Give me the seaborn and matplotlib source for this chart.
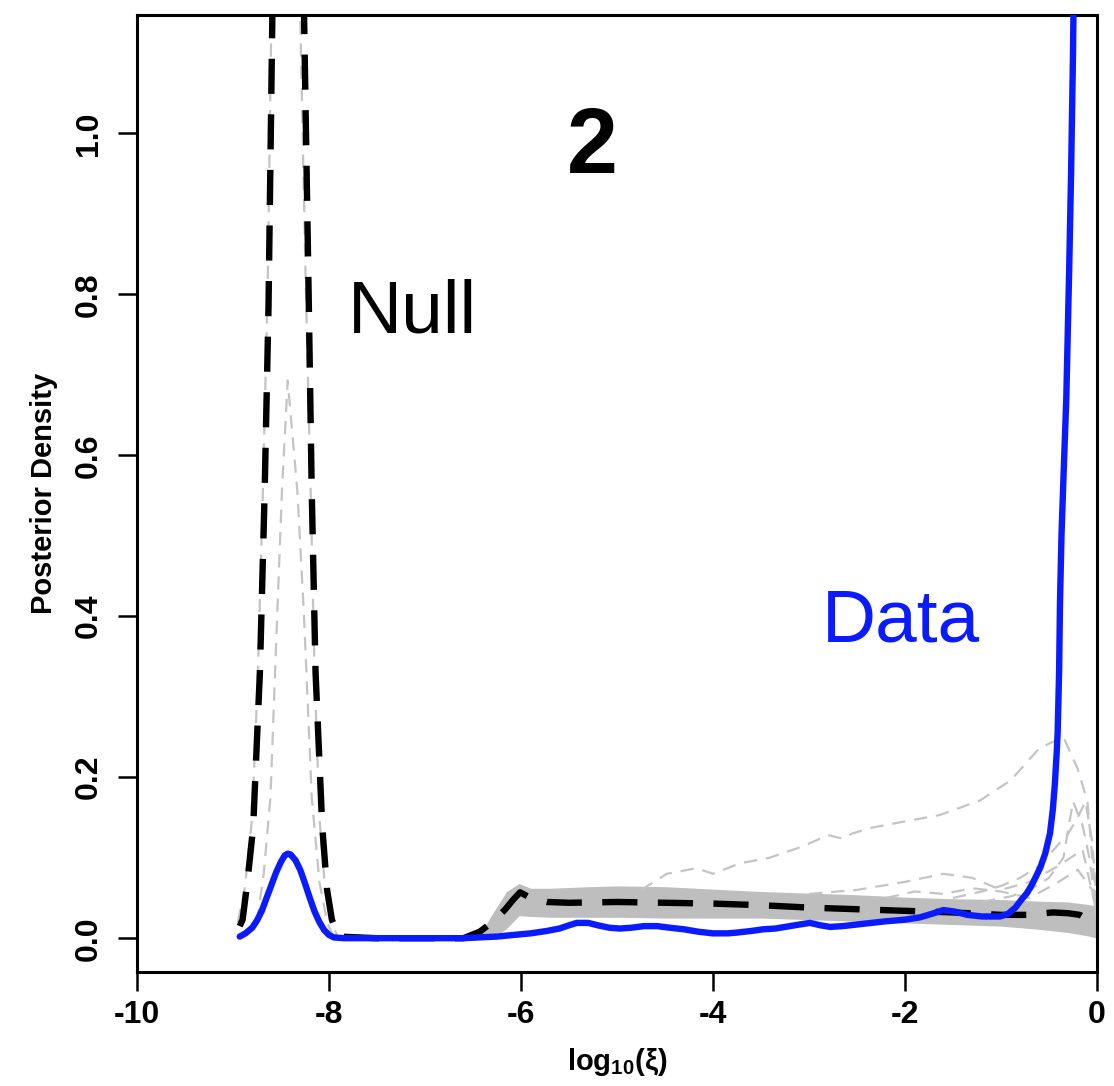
import numpy as np
import pandas as pd
import matplotlib
matplotlib.use("Agg")
import matplotlib.pyplot as plt
import seaborn as sns

# ---------------- data ----------------
data_x = [-8.93, -8.87, -8.8, -8.75, -8.7, -8.65, -8.6, -8.55, -8.5, -8.46, -8.43,
          -8.4, -8.35, -8.3, -8.25, -8.2, -8.15, -8.1, -8.05, -8.0, -7.95, -7.85,
          -7.5, -7.0, -6.6, -6.43, -6.25, -6.08, -5.9, -5.73, -5.6, -5.5, -5.42, -5.3,
          -5.2, -5.08, -4.97, -4.85, -4.72, -4.58, -4.45, -4.3, -4.15, -4.0, -3.85,
          -3.75, -3.6, -3.48, -3.35, -3.25, -3.1, -2.99, -2.88, -2.78, -2.65, -2.5,
          -2.35, -2.2, -2.0, -1.84, -1.7, -1.6, -1.48, -1.35, -1.2, -1.01, -0.93,
          -0.85, -0.8, -0.73, -0.68, -0.63, -0.59, -0.54, -0.49, -0.46, -0.44, -0.42,
          -0.41, -0.395, -0.385, -0.37, -0.35, -0.32, -0.29, -0.27, -0.25, -0.24]
data_y = [0.002, 0.006, 0.013, 0.022, 0.034, 0.05, 0.066, 0.082, 0.095, 0.103, 0.105,
          0.104, 0.097, 0.085, 0.068, 0.05, 0.033, 0.02, 0.01, 0.004, 0.001, 0.0,
          0.0, 0.0, 0.0, 0.001, 0.002, 0.004, 0.006, 0.009, 0.012, 0.016, 0.019, 0.019,
          0.016, 0.013, 0.012, 0.013, 0.015, 0.015, 0.013, 0.011, 0.008, 0.006, 0.006,
          0.007, 0.009, 0.011, 0.012, 0.014, 0.017, 0.019, 0.016, 0.014, 0.015, 0.017,
          0.019, 0.021, 0.023, 0.026, 0.031, 0.035, 0.033, 0.029, 0.027, 0.027, 0.03,
          0.038, 0.046, 0.056, 0.066, 0.078, 0.088, 0.105, 0.13, 0.16, 0.19, 0.23,
          0.255, 0.33, 0.42, 0.5, 0.57, 0.67, 0.83, 0.95, 1.1, 1.2]

null_x = [-8.93, -8.9, -8.85, -8.79, -8.72, -8.67, -8.63, -8.59, -8.52, -8.43, -8.34,
          -8.26, -8.21, -8.18, -8.14, -8.07, -8.02, -7.97, -7.9, -7.5, -7.0, -6.6,
          -6.43, -6.3, -6.17, -6.08, -6.01, -5.9, -5.73, -5.5, -5.0, -4.5, -4.0, -3.5,
          -3.0, -2.5, -2.0, -1.5, -1.0, -0.73, -0.46, -0.3, -0.18, -0.08, 0.0]
null_y = [0.015, 0.023, 0.07, 0.138, 0.33, 0.556, 0.785, 1.147, 1.45, 1.55, 1.45,
          1.147, 0.785, 0.556, 0.33, 0.138, 0.06, 0.023, 0.002, 0.0, 0.0, 0.0,
          0.008, 0.02, 0.035, 0.048, 0.057, 0.05, 0.045, 0.044, 0.045, 0.044, 0.043, 0.041,
          0.038, 0.036, 0.034, 0.032, 0.029, 0.029, 0.032, 0.031, 0.029, 0.022, 0.012]

# envelope of the null replicate band
band_x = [-6.45, -6.3, -6.15, -6.02, -5.9, -5.7, -5.3, -5.0, -4.5, -4.0, -3.5,
          -3.0, -2.5, -2.0, -1.5, -1.0, -0.6, -0.3, -0.1, 0.0]
band_upper = [0.0, 0.03, 0.058, 0.068, 0.062, 0.062, 0.064, 0.065, 0.064, 0.061, 0.058,
              0.056, 0.054, 0.051, 0.049, 0.048, 0.046, 0.045, 0.042, 0.04]
band_lower = [0.0, 0.0, 0.012, 0.028, 0.027, 0.026, 0.026, 0.026, 0.025, 0.025, 0.025,
              0.023, 0.021, 0.019, 0.017, 0.015, 0.011, 0.007, 0.003, 0.0]

# individual null replicates (thin grey dashed)
rep1_x = [-8.75, -8.68, -8.61, -8.54, -8.49, -8.43, -8.33, -8.26, -8.18, -8.1, -8.02, -7.95]
rep1_y = [0.02, 0.08, 0.175, 0.40, 0.556, 0.693, 0.556, 0.40, 0.175, 0.07, 0.02, 0.0]

rep2_x = [-8.95, -8.88, -8.8, -8.74, -8.69, -8.64, -8.6, -8.55, -8.45, -8.35, -8.3,
          -8.24, -8.19, -8.15, -8.1, -8.04, -7.98, -7.9]
rep2_y = [0.02, 0.06, 0.15, 0.33, 0.55, 0.8, 1.147, 1.4, 1.5, 1.4, 1.147,
          0.8, 0.55, 0.33, 0.15, 0.06, 0.02, 0.0]

rep3_x = [-4.75, -4.48, -4.17, -4.0, -3.72, -3.41, -3.09, -2.8, -2.66, -2.55, -2.36,
          -2.05, -1.64, -1.22, -0.9, -0.6, -0.35, -0.2, -0.1, -0.04, 0.0]
rep3_y = [0.06, 0.08, 0.087, 0.08, 0.093, 0.10, 0.113, 0.128, 0.124, 0.13, 0.137,
          0.144, 0.153, 0.171, 0.196, 0.236, 0.25, 0.21, 0.17, 0.088, 0.035]

rep4_x = [-1.5, -1.2, -1.0, -0.8, -0.6, -0.45, -0.3, -0.2, -0.12, -0.05, 0.0]
rep4_y = [0.05, 0.058, 0.065, 0.075, 0.09, 0.11, 0.13, 0.15, 0.17, 0.12, 0.04]

rep5_x = [-1.2, -0.9, -0.7, -0.5, -0.35, -0.25, -0.15, -0.08, 0.0]
rep5_y = [0.045, 0.052, 0.06, 0.075, 0.1, 0.17, 0.14, 0.1, 0.03]

rep6_x = [-3.0, -2.5, -2.0, -1.6, -1.3, -1.0, -0.7, -0.4, -0.15, 0.0]
rep6_y = [0.055, 0.06, 0.07, 0.08, 0.075, 0.06, 0.07, 0.09, 0.11, 0.03]

rep7_x = [-2.2, -1.9, -1.6, -1.3, -1.0, -0.7, -0.4, -0.2, -0.05, 0.0]
rep7_y = [0.05, 0.058, 0.055, 0.062, 0.058, 0.05, 0.07, 0.085, 0.06, 0.02]

x_ticks = [-10, -8, -6, -4, -2, 0]
x_tick_labels = ["-10", "-8", "-6", "-4", "-2", "0"]
y_ticks = [0.0, 0.2, 0.4, 0.6, 0.8, 1.0]
y_tick_labels = ["0.0", "0.2", "0.4", "0.6", "0.8", "1.0"]

# ---------------- style ----------------
sns.set_theme(style="ticks")
plt.rcParams["font.family"] = ["Liberation Sans", "DejaVu Sans"]
plt.rcParams["axes.unicode_minus"] = False
plt.rcParams["text.color"] = "black"
plt.rcParams["axes.labelcolor"] = "black"
plt.rcParams["xtick.color"] = "black"
plt.rcParams["ytick.color"] = "black"
plt.rcParams["mathtext.fontset"] = "custom"
plt.rcParams["mathtext.rm"] = "Liberation Sans:bold"
plt.rcParams["mathtext.it"] = "Liberation Sans:bold"
plt.rcParams["mathtext.bf"] = "Liberation Sans:bold"

fig = plt.figure(figsize=(11.14, 10.86), dpi=100)
ax = fig.add_axes([137 / 1114, 114 / 1086, 960 / 1114, 957 / 1086])

GREY_BAND = "#bebebe"
GREY_LINE = "#c4c4c4"
BLUE = "#0a1cff"

ax.fill_between(band_x, band_lower, band_upper, color=GREY_BAND, lw=0, zorder=1)

for rx, ry in [(rep1_x, rep1_y), (rep2_x, rep2_y), (rep3_x, rep3_y), (rep4_x, rep4_y),
               (rep5_x, rep5_y), (rep6_x, rep6_y), (rep7_x, rep7_y)]:
    sns.lineplot(x=rx, y=ry, ax=ax, color=GREY_LINE, linewidth=1.6,
                 linestyle=(0, (6, 4)), sort=False, estimator=None, zorder=2)

sns.lineplot(x=null_x, y=null_y, ax=ax, color="black", linewidth=4.6,
             linestyle=(0, (5.5, 3.2)), sort=False, estimator=None, zorder=3)
sns.lineplot(x=data_x, y=data_y, ax=ax, color=BLUE, linewidth=4.6,
             sort=False, estimator=None, zorder=4, solid_joinstyle="round",
             solid_capstyle="round")

ax.set_xlim(-10, 0)
ax.set_ylim(-0.042, 1.147)
ax.set_xticks(x_ticks)
ax.set_xticklabels(x_tick_labels)
ax.set_yticks(y_ticks)
ax.set_yticklabels(y_tick_labels, rotation=90, va="center")

for s in ax.spines.values():
    s.set_visible(True)
    s.set_linewidth(2.2)
    s.set_color("black")

ax.tick_params(axis="both", length=14, width=1.8, color="black", labelsize=23,
               direction="out")
ax.tick_params(axis="x", pad=6)
ax.tick_params(axis="y", pad=10)
for lab in ax.get_xticklabels() + ax.get_yticklabels():
    lab.set_fontweight("bold")

ax.set_xlabel(r"log$_{10}$($\xi$)", fontsize=21, fontweight="bold", labelpad=12)
ax.set_ylabel("Posterior Density", fontsize=21, fontweight="bold", labelpad=11)
ax.grid(False)

ax.text(-5.26, 0.951, "2", fontsize=66, fontweight="bold", ha="center", va="baseline")
ax.text(-7.80, 0.753, "Null", fontsize=54, color="black", ha="left", va="baseline")
ax.text(-2.865, 0.368, "Data", fontsize=54, color=BLUE, ha="left", va="baseline")

fig.savefig("out.png", dpi=100)
